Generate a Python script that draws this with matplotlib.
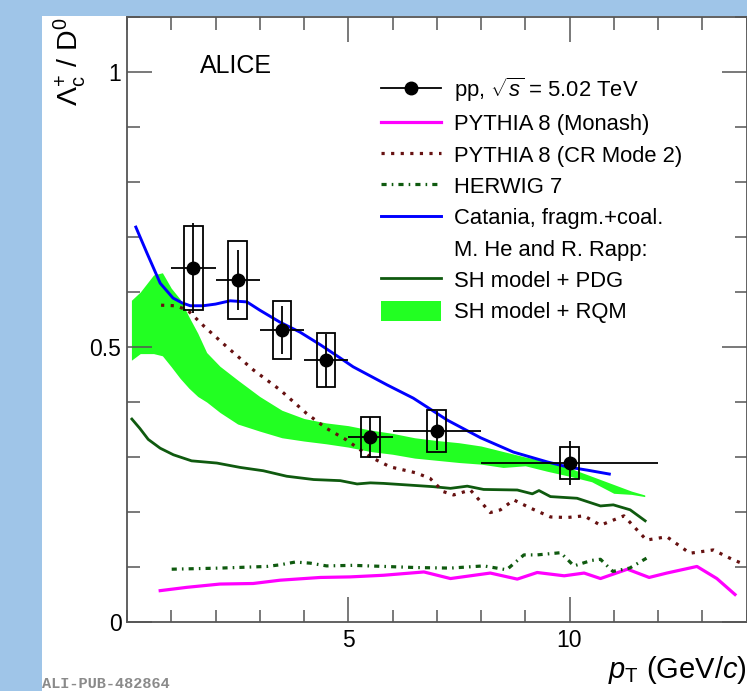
import matplotlib
matplotlib.use("Agg")
import matplotlib.pyplot as plt
from matplotlib.patches import Rectangle, Patch
from matplotlib.lines import Line2D
from matplotlib.ticker import MultipleLocator, FixedLocator

plt.rcParams['font.family'] = ['Liberation Sans', 'DejaVu Sans']
plt.rcParams['mathtext.fontset'] = 'custom'
plt.rcParams['mathtext.rm'] = 'Liberation Sans'
plt.rcParams['mathtext.it'] = 'Liberation Sans:italic'
plt.rcParams['mathtext.bf'] = 'Liberation Sans:bold'

# ALICE pp 5.02 TeV, Lambda_c+/D0
pt = [1.5, 2.5, 3.5, 4.5, 5.5, 7.0, 10.0]
pt_lo = [0.5, 0.5, 0.5, 0.5, 0.5, 1.0, 2.0]
ratio = [0.644, 0.622, 0.531, 0.476, 0.336, 0.348, 0.289]
stat = [0.082, 0.055, 0.044, 0.048, 0.037, 0.036, 0.040]
syst = [0.076, 0.071, 0.053, 0.049, 0.036, 0.038, 0.029]

# PYTHIA 8 Monash
monash_pt = [0.75, 1.35, 2.1, 2.85, 3.46, 4.37, 5.04, 5.8, 6.71, 7.31, 8.21, 8.82,
             9.27, 9.88, 10.33, 10.7, 11.31, 11.8, 12.2, 12.88, 13.33, 13.74]
monash = [0.057, 0.063, 0.069, 0.070, 0.076, 0.081, 0.082, 0.085, 0.091, 0.079, 0.089, 0.078,
          0.090, 0.084, 0.089, 0.079, 0.096, 0.081, 0.089, 0.101, 0.079, 0.050]

# PYTHIA 8 CR mode 2
cr_pt = [0.77, 1.1, 1.37, 1.75, 2.26, 2.86, 3.46, 4.06, 4.51, 4.96, 5.5, 5.95, 6.54, 6.85,
         7.15, 7.38, 7.76, 7.99, 8.21, 8.44, 8.74, 9.12, 9.57, 9.95, 10.33, 10.7, 11.23,
         11.74, 12.2, 12.72, 13.25, 13.7, 13.95]
cr = [0.576, 0.575, 0.567, 0.537, 0.500, 0.458, 0.422, 0.379, 0.352, 0.331, 0.300, 0.282,
      0.271, 0.261, 0.237, 0.231, 0.240, 0.219, 0.199, 0.204, 0.222, 0.207, 0.191, 0.190,
      0.193, 0.176, 0.193, 0.149, 0.155, 0.125, 0.131, 0.113, 0.105]

# HERWIG 7
herwig_pt = [1.01, 2.1, 3.16, 3.46, 3.8, 4.14, 4.51, 5.1, 6.54, 7.31, 8.06, 8.58, 8.97,
             9.27, 9.8, 10.1, 10.5, 10.7, 10.98, 11.36, 11.74]
herwig = [0.096, 0.098, 0.101, 0.104, 0.109, 0.107, 0.102, 0.103, 0.099, 0.098, 0.102, 0.095,
          0.122, 0.122, 0.126, 0.102, 0.112, 0.114, 0.092, 0.098, 0.116]

# Catania fragm.+coal.
catania_pt = [0.2, 0.45, 0.75, 1.04, 1.25, 1.43, 1.72, 2.0, 2.33, 2.71, 3.0, 3.46, 3.91,
              4.37, 4.8, 5.11, 5.88, 6.47, 7.24, 7.99, 8.73, 9.5, 9.95, 10.41, 10.9]
catania = [0.718, 0.671, 0.616, 0.589, 0.580, 0.575, 0.575, 0.578, 0.584, 0.582, 0.567, 0.545,
           0.527, 0.504, 0.481, 0.464, 0.431, 0.407, 0.367, 0.335, 0.309, 0.291, 0.282, 0.276,
           0.269]

# He-Rapp SH model + PDG
pdg_pt = [0.11, 0.29, 0.48, 0.75, 1.05, 1.46, 2.03, 2.56, 3.08, 3.61, 4.22, 4.82, 5.2, 5.5,
          5.8, 6.93, 7.31, 7.69, 8.06, 8.82, 9.16, 9.31, 9.57, 10.17, 10.7, 10.99, 11.37, 11.71]
pdg = [0.369, 0.352, 0.332, 0.316, 0.304, 0.293, 0.289, 0.281, 0.275, 0.265, 0.259, 0.257,
       0.251, 0.253, 0.252, 0.246, 0.243, 0.247, 0.241, 0.240, 0.233, 0.239, 0.228, 0.225,
       0.211, 0.213, 0.204, 0.184]

# He-Rapp SH model + RQM band
rqm_pt = [0.1, 0.3, 0.6, 0.8, 1.0, 1.2, 1.4, 1.6, 1.8, 2.1, 2.5, 3.0, 3.5, 4.0, 4.5, 5.0,
          5.5, 6.0, 6.5, 7.0, 7.5, 8.0, 8.5, 9.0, 9.5, 10.0, 10.5, 11.0, 11.4, 11.7]
rqm_hi = [0.585, 0.600, 0.631, 0.635, 0.607, 0.587, 0.555, 0.525, 0.490, 0.465, 0.440, 0.410,
          0.385, 0.370, 0.362, 0.357, 0.349, 0.343, 0.335, 0.330, 0.326, 0.320, 0.310, 0.300,
          0.292, 0.280, 0.265, 0.250, 0.238, 0.231]
rqm_lo = [0.476, 0.488, 0.488, 0.484, 0.464, 0.443, 0.425, 0.410, 0.400, 0.381, 0.360, 0.347,
          0.335, 0.329, 0.324, 0.318, 0.310, 0.305, 0.298, 0.294, 0.290, 0.287, 0.281, 0.284,
          0.274, 0.265, 0.255, 0.234, 0.232, 0.228]

fig = plt.figure(figsize=(7.47, 6.91), dpi=100)
fig.patch.set_facecolor('#9fc5e8')
fig.add_artist(Rectangle((42/747, 0), 1, 1 - 16/691, transform=fig.transFigure,
                         facecolor='white', edgecolor='none', zorder=0))
ax = fig.add_axes([127/747, 69/691, 619.5/747, 605/691])
ax.set_facecolor('none')

ax.fill_between(rqm_pt, rqm_lo, rqm_hi, color='#22ff22', lw=0, zorder=1)
ax.plot(pdg_pt, pdg, color='#0f5a0f', lw=2.0, zorder=2)
ax.plot(monash_pt, monash, color='#ff00ff', lw=2.3, zorder=2)
ax.plot(cr_pt, cr, color='#661111', lw=2.3, ls=(0, (1, 2)), zorder=2)
ax.plot(herwig_pt, herwig, color='#0f5a0f', lw=2.3, ls=(0, (1.6, 1.6, 0.5, 1.6)), zorder=2)
ax.plot(catania_pt, catania, color='#0000ff', lw=2.1, zorder=3)

for x, y, s in zip(pt, ratio, syst):
    ax.add_patch(Rectangle((x - 0.21, y - s), 0.42, 2 * s, fill=False,
                           edgecolor='black', lw=1.3, zorder=4))
ax.errorbar(pt, ratio, xerr=pt_lo, yerr=stat, fmt='o', color='black', ms=9,
            elinewidth=1.3, capsize=0, zorder=5)

ax.set_xlim(0, 14)
ax.set_ylim(0, 1.1)
ax.xaxis.set_major_locator(FixedLocator([5, 10]))
ax.xaxis.set_minor_locator(MultipleLocator(1))
ax.yaxis.set_major_locator(FixedLocator([0, 0.5, 1]))
ax.yaxis.set_minor_locator(MultipleLocator(0.1))
ax.set_yticklabels(['0', '0.5', '1'])
ax.tick_params(which='both', direction='in', top=True, right=True, color='#555555',
               width=1.1, labelsize=16.5)
ax.tick_params(which='major', length=18)
ax.tick_params(which='minor', length=9)
ax.tick_params(axis='y', pad=4)
ax.tick_params(axis='x', pad=5)
for sp in ax.spines.values():
    sp.set_color('#555555')
    sp.set_linewidth(1.3)

ax.set_ylabel(r'$\Lambda_{\rm c}^{+}$ / D$^{0}$', fontsize=20.5, loc='top')
ax.yaxis.set_label_coords(-0.063, 1.0)
ax.set_xlabel(r'$p_{\rm T}$ (GeV/$c$)', fontsize=21, loc='right')
ax.xaxis.set_label_coords(1.0, -0.053)

ax.text(1.65, 0.998, 'ALICE', fontsize=18, va='baseline', ha='left')

handles = [
    Line2D([], [], color='black', lw=1.3, marker='o', ms=9),
    Line2D([], [], color='#ff00ff', lw=2.3),
    Line2D([], [], color='#661111', lw=2.3, ls=(0, (1, 2))),
    Line2D([], [], color='#0f5a0f', lw=2.3, ls=(0, (1.6, 1.6, 0.5, 1.6))),
    Line2D([], [], color='#0000ff', lw=2.1),
    Line2D([], [], color='none'),
    Line2D([], [], color='#0f5a0f', lw=2.0),
    Patch(facecolor='#22ff22', edgecolor='none'),
]
labels = [r'pp, $\sqrt{s}$ = 5.02 TeV', 'PYTHIA 8 (Monash)', 'PYTHIA 8 (CR Mode 2)',
          'HERWIG 7', 'Catania, fragm.+coal.', 'M. He and R. Rapp:', 'SH model + PDG',
          'SH model + RQM']
ax.legend(handles, labels, loc='upper left', bbox_to_anchor=(0.4097, 0.903),
          frameon=False, fontsize=15.8, borderpad=0, borderaxespad=0,
          handlelength=2.75, handleheight=1.0, handletextpad=0.6, labelspacing=0.41,
          numpoints=1)

fig.text(42/747, 3/691, 'ALI-PUB-482864', fontsize=11, color='#8a8a8a',
         family='Liberation Mono', weight='bold', va='baseline', ha='left')

fig.savefig('out.png', dpi=100, facecolor=fig.get_facecolor())
